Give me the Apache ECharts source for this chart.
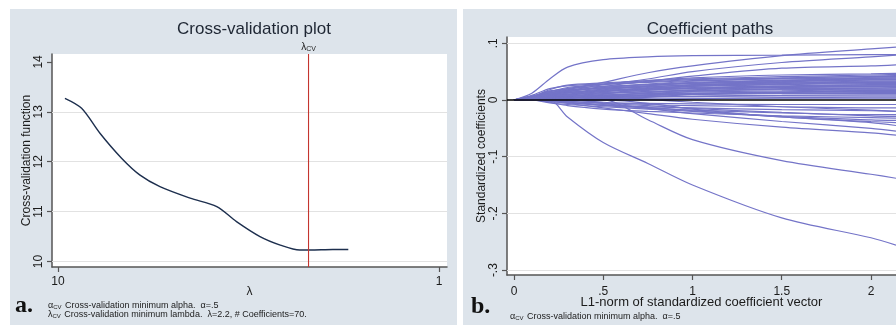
<!DOCTYPE html>
<html>
<head>
<meta charset="utf-8">
<script src="https://cdn.jsdelivr.net/npm/echarts@6/dist/echarts.min.js"></script>
<style>
html, body { margin: 0; padding: 0; background: #fff; }
#main { width: 896px; height: 327px; }
</style>
</head>
<body>
<div id="main"></div>
<script>
// a. cross-validation plot
const lambdaVals = [9.59, 8.67, 7.76, 6.81, 6.09, 5.40, 4.50, 3.83, 3.40, 2.95, 2.61, 2.32, 2.18, 1.90, 1.73];
const cvVals = [13.27, 13.07, 12.57, 12.07, 11.73, 11.50, 11.27, 11.10, 10.80, 10.50, 10.33, 10.23, 10.23, 10.24, 10.24];
const lambdaCV = 2.2;
const cvTicks = [10, 11, 12, 13, 14];
const cvGridLines = [10, 11, 12, 13];
const cvRange = [9.89, 14.158];
const lambdaTicks = [10, 1];

// b. coefficient paths, values at each l1Norm point
const l1Norm = [0, 0.1, 0.2, 0.3, 0.5, 0.75, 1, 1.5, 2, 2.14];
const pathsUpper = [
  [0, .012, .037, .058, .071, .076, .078, .079, .080, .080],
  [0, .005, .012, .018, .031, .048, .060, .078, .090, .093],
  [0, .004, .010, .016, .027, .037, .050, .066, .076, .079],
  [0, .003, .008, .014, .024, .033, .042, .056, .060, .062],
  [0, .004, .012, .020, .028, .034, .039, .044, .046, .047]
];
const pathsBand = [
  [0, .006, .018, .026, .030, .034, .037, .041, .044, .045],
  [0, .008, .020, .025, .028, .031, .034, .038, .042, .043],
  [0, .004, .014, .022, .027, .032, .036, .039, .041, .041],
  [0, .002, .008, .015, .022, .028, .033, .037, .039, .039],
  [0, 0, .004, .010, .018, .025, .030, .034, .037, .037],
  [0, .005, .015, .020, .024, .027, .029, .032, .035, .035],
  [0, 0, 0, .005, .014, .022, .027, .031, .033, .033],
  [0, .006, .016, .018, .021, .024, .026, .029, .031, .031],
  [0, 0, .003, .008, .015, .020, .024, .027, .029, .029],
  [0, .003, .010, .013, .017, .020, .022, .025, .027, .027],
  [0, 0, 0, 0, .006, .013, .018, .022, .025, .025],
  [0, .007, .012, .014, .016, .018, .020, .022, .023, .023],
  [0, 0, .002, .006, .011, .015, .017, .019, .021, .021],
  [0, .004, .008, .010, .012, .014, .016, .018, .019, .019],
  [0, 0, 0, 0, 0, .005, .010, .014, .017, .017],
  [0, .002, .005, .007, .009, .011, .012, .014, .015, .015],
  [0, 0, 0, .003, .006, .008, .010, .012, .013, .013],
  [0, .003, .006, .007, .008, .009, .010, .011, .011, .011],
  [0, 0, 0, 0, .002, .005, .007, .008, .009, .009],
  [0, .001, .003, .004, .005, .006, .006, .007, .007, .007],
  [0, 0, 0, 0, 0, 0, .002, .004, .005, .005],
  [0, 0, .002, .003, .003, .003, .003, .003, .003, .003],
  [0, .005, .013, .017, .022, .027, .031, .035, .038, .039],
  [0, 0, .006, .012, .019, .023, .026, .030, .032, .032],
  [0, .002, .007, .012, .016, .019, .021, .024, .026, .026],
  [0, 0, 0, .002, .008, .012, .014, .016, .018, .018],
  [0, 0, 0, 0, .003, .009, .015, .020, .021, .022],
  [0, .004, .011, .016, .020, .025, .029, .033, .036, .036],
  [0, 0, .002, .009, .016, .021, .025, .028, .030, .030],
  [0, .001, .005, .009, .013, .017, .020, .023, .024, .024],
  [0, 0, 0, 0, .004, .008, .011, .013, .016, .016],
  [0, .002, .004, .005, .007, .009, .011, .012, .012, .012],
  [0, 0, 0, .003, .010, .019, .025, .032, .040, .042]
];
const pathsLower = [
  [0, 0, -.005, -.008, -.012, -.016, -.020, -.030, -.040, -.045],
  [0, 0, -.003, -.006, -.014, -.024, -.034, -.048, -.058, -.062],
  [0, .002, .004, .002, -.006, -.015, -.024, -.038, -.050, -.055],
  [0, 0, -.004, -.010, -.016, -.020, -.023, -.028, -.031, -.032],
  [0, 0, 0, -.004, -.010, -.014, -.018, -.023, -.026, -.026],
  [0, 0, -.002, -.005, -.009, -.012, -.014, -.017, -.019, -.020],
  [0, 0, 0, 0, -.004, -.008, -.010, -.012, -.014, -.014],
  [0, 0, -.001, -.003, -.005, -.006, -.007, -.008, -.008, -.008],
  [0, 0, 0, 0, 0, -.006, -.016, -.030, -.038, -.040],
  [0, .003, .006, .008, .006, .001, -.004, -.012, -.018, -.020],
  [0, 0, -.002, -.004, -.008, -.013, -.019, -.029, -.035, -.036],
  [0, 0, 0, -.002, -.006, -.010, -.015, -.022, -.028, -.029]
];
const pathsLarge = [
  [0, 0, 0, -.030, -.075, -.112, -.150, -.208, -.243, -.256],
  [0, 0, 0, 0, 0, -.035, -.070, -.107, -.131, -.138]
];
const coefTicks = [.1, 0, -.1, -.2, -.3];
const coefGridLines = [.1, -.1, -.2, -.3];
const l1Ticks = [0, .5, 1, 1.5, 2];

const FONT = 'Liberation Sans, Arial, sans-serif';
const TXT = '#1b1b1b';
const AXIS = '#555';
const GRIDC = '#e2e2e2';
const PATHC = '#7474c8';
const REDC = '#c4352f';

function stataNum(v) {
  return String(+v.toFixed(2)).replace(/^(-?)0\./, '$1.');
}

let chart = echarts.init(document.getElementById('main'));

let axisCommon = {
  axisLine: { show: true, onZero: false, lineStyle: { color: AXIS, width: 1.5 } },
  axisTick: { show: true, inside: false, length: 5, lineStyle: { color: AXIS, width: 1.2 } },
  splitLine: { show: false },
  nameMoveOverlap: false,
  nameTextStyle: { fontFamily: FONT, color: TXT, fontSize: 12 }
};

let series = [];

// left: gridlines host
series.push({
  type: 'line', xAxisIndex: 0, yAxisIndex: 0, data: [], z: 1, silent: true,
  markLine: {
    z: 1, symbol: 'none', silent: true, animation: false,
    label: { show: false },
    lineStyle: { color: GRIDC, width: 1, type: 'solid' },
    data: cvGridLines.map(v => ({ yAxis: v }))
  }
});
series.push({
  type: 'line', xAxisIndex: 0, yAxisIndex: 0, z: 3,
  data: lambdaVals.map((l, i) => [Math.log10(l), cvVals[i]]),
  showSymbol: false, smooth: 0.3,
  lineStyle: { color: '#1d2f4e', width: 1.4 }
});
// lambda CV reference line, full height of the axis
series.push({
  type: 'line', xAxisIndex: 0, yAxisIndex: 0, z: 6, silent: true,
  symbol: 'circle', symbolSize: 0, showSymbol: true,
  itemStyle: { color: REDC },
  lineStyle: { color: REDC, width: 1.1 },
  data: [
    [Math.log10(lambdaCV), cvRange[0]],
    {
      value: [Math.log10(lambdaCV), cvRange[1]],
      label: {
        show: true, position: 'top', distance: 1,
        formatter: '{a|λ}{b|CV}',
        rich: {
          a: { fontFamily: FONT, fontSize: 10, color: TXT },
          b: { fontFamily: FONT, fontSize: 7, color: TXT, verticalAlign: 'bottom', padding: [4, 0, 0, 0] }
        }
      }
    }
  ]
});

// right: gridlines host
series.push({
  type: 'line', xAxisIndex: 1, yAxisIndex: 1, data: [], z: 1, silent: true,
  markLine: {
    z: 1, symbol: 'none', silent: true, animation: false,
    label: { show: false },
    lineStyle: { color: GRIDC, width: 1, type: 'solid' },
    data: coefGridLines.map(v => ({ yAxis: v }))
  }
});
[].concat(pathsUpper, pathsBand, pathsLower, pathsLarge).forEach(p => {
  series.push({
    type: 'line', xAxisIndex: 1, yAxisIndex: 1, z: 3,
    data: p.map((v, i) => [l1Norm[i], v]),
    showSymbol: false, smooth: 0.3,
    lineStyle: { color: PATHC, width: 1.2 }
  });
});
// zero line on top
series.push({
  type: 'line', xAxisIndex: 1, yAxisIndex: 1, data: [], z: 10, silent: true,
  color: '#000',
  markLine: {
    z: 10, symbol: 'none', silent: true, animation: false,
    label: { show: false },
    emphasis: { disabled: true },
    lineStyle: { color: '#000', width: 1.5, type: 'solid' },
    data: [{ yAxis: 0 }]
  }
});

let option = {
  animation: false,
  textStyle: { fontFamily: FONT },
  title: [
    { text: 'Cross-validation plot', left: 249, top: 16, textAlign: 'center',
      textStyle: { fontFamily: FONT, fontSize: 17, fontWeight: 'normal', color: '#1e2633' } },
    { text: 'Coefficient paths', left: 705, top: 16, textAlign: 'center',
      textStyle: { fontFamily: FONT, fontSize: 17, fontWeight: 'normal', color: '#1e2633' } }
  ],
  grid: [
    { left: 52, top: 54, width: 395, height: 213, show: true, backgroundColor: '#fff', borderWidth: 0 },
    { left: 507, top: 37, width: 389, height: 238, show: true, backgroundColor: '#fff', borderWidth: 0 }
  ],
  xAxis: [
    Object.assign({}, axisCommon, {
      gridIndex: 0, type: 'value', inverse: true,
      min: -0.021, max: 1.0157,
      name: 'λ', nameLocation: 'middle', nameGap: 19,
      axisTick: Object.assign({}, axisCommon.axisTick, { customValues: lambdaTicks.map(v => Math.log10(v)) }),
      axisLabel: {
        customValues: lambdaTicks.map(v => Math.log10(v)),
        formatter: v => String(Math.round(Math.pow(10, v))),
        fontFamily: FONT, fontSize: 12, color: TXT, margin: 9
      }
    }),
    Object.assign({}, axisCommon, {
      gridIndex: 1, type: 'value',
      min: -0.039, max: 2.14,
      name: 'L1-norm of standardized coefficient vector', nameLocation: 'middle', nameGap: 21,
      nameTextStyle: { fontFamily: FONT, color: TXT, fontSize: 13 },
      axisTick: Object.assign({}, axisCommon.axisTick, { customValues: l1Ticks }),
      axisLabel: {
        customValues: l1Ticks, formatter: stataNum,
        fontFamily: FONT, fontSize: 12, color: TXT, margin: 11
      }
    })
  ],
  yAxis: [
    Object.assign({}, axisCommon, {
      gridIndex: 0, type: 'value',
      min: cvRange[0], max: cvRange[1],
      name: 'Cross-validation function', nameLocation: 'middle', nameGap: 19,
      axisTick: Object.assign({}, axisCommon.axisTick, { customValues: cvTicks }),
      axisLabel: {
        customValues: cvTicks, rotate: 90,
        fontFamily: FONT, fontSize: 12, color: TXT, margin: 7
      }
    }),
    Object.assign({}, axisCommon, {
      gridIndex: 1, type: 'value',
      min: -0.3086, max: 0.111,
      name: 'Standardized coefficients', nameLocation: 'middle', nameGap: 19,
      axisTick: Object.assign({}, axisCommon.axisTick, { customValues: coefTicks }),
      axisLabel: {
        customValues: coefTicks, rotate: 90, formatter: stataNum,
        fontFamily: FONT, fontSize: 12, color: TXT, margin: 7
      }
    })
  ],
  graphic: [
    { type: 'rect', z: -10, silent: true, shape: { x: 10, y: 9, width: 447, height: 316 }, style: { fill: '#dde4eb' } },
    { type: 'rect', z: -10, silent: true, shape: { x: 463, y: 9, width: 433, height: 316 }, style: { fill: '#dde4eb' } },
    { type: 'text', x: 15, y: 294, style: { text: 'a.', font: 'bold 24px Liberation Serif, serif', fill: '#111' } },
    { type: 'text', x: 471, y: 295, style: { text: 'b.', font: 'bold 24px Liberation Serif, serif', fill: '#111' } },
    { type: 'text', x: 48, y: 301, style: {
      text: '{g|α}{s|CV} Cross-validation minimum alpha.  α=.5',
      font: '9px ' + FONT, fill: TXT,
      rich: { g: { fontSize: 9, fontFamily: FONT, fill: TXT }, s: { fontSize: 6, fontFamily: FONT, fill: TXT, padding: [3, 1, 0, 0] } }
    } },
    { type: 'text', x: 48, y: 310, style: {
      text: '{g|λ}{s|CV} Cross-validation minimum lambda.  λ=2.2, # Coefficients=70.',
      font: '9px ' + FONT, fill: TXT,
      rich: { g: { fontSize: 9, fontFamily: FONT, fill: TXT }, s: { fontSize: 6, fontFamily: FONT, fill: TXT, padding: [3, 1, 0, 0] } }
    } },
    { type: 'text', x: 510, y: 312, style: {
      text: '{g|α}{s|CV} Cross-validation minimum alpha.  α=.5',
      font: '9px ' + FONT, fill: TXT,
      rich: { g: { fontSize: 9, fontFamily: FONT, fill: TXT }, s: { fontSize: 6, fontFamily: FONT, fill: TXT, padding: [3, 1, 0, 0] } }
    } }
  ],
  series: series
};

chart.setOption(option);
</script>
</body>
</html>
